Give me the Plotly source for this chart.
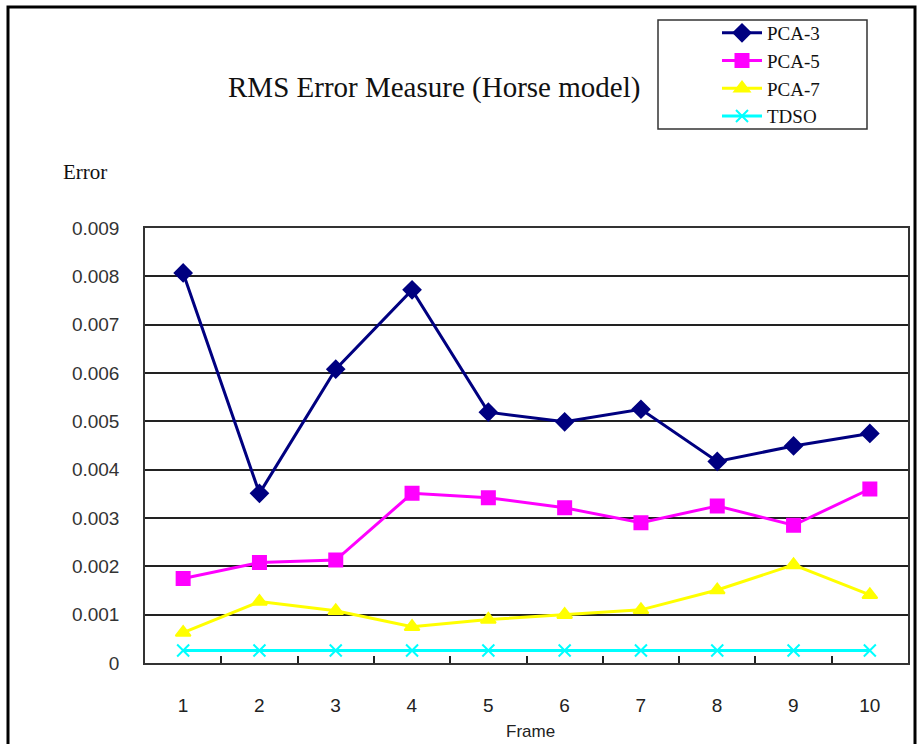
import plotly.graph_objects as go

# Frame numbers and RMS error per method
frames = [1, 2, 3, 4, 5, 6, 7, 8, 9, 10]
frame_labels = ["1", "2", "3", "4", "5", "6", "7", "8", "9", "10"]
pca3 = [0.00807, 0.00351, 0.00608, 0.00772, 0.00519, 0.00499, 0.00525, 0.00417, 0.00449, 0.00475]
pca5 = [0.00175, 0.00208, 0.00213, 0.00351, 0.00342, 0.00321, 0.00290, 0.00325, 0.00285, 0.00360]
pca7 = [0.00063, 0.00127, 0.00108, 0.00075, 0.00090, 0.00100, 0.00110, 0.00151, 0.00203, 0.00141]
tdso = [0.00026, 0.00026, 0.00026, 0.00026, 0.00026, 0.00026, 0.00026, 0.00026, 0.00026, 0.00026]

y_ticks = [0, 0.001, 0.002, 0.003, 0.004, 0.005, 0.006, 0.007, 0.008, 0.009]
y_tick_text = ["0", "0.001", "0.002", "0.003", "0.004", "0.005", "0.006", "0.007", "0.008", "0.009"]

series = [
    ("PCA-3", pca3, "#000080", "diamond", 13),
    ("PCA-5", pca5, "#FF00FF", "square", 13),
    ("PCA-7", pca7, "#FFFF00", "triangle-up", 13),
    ("TDSO", tdso, "#00FFFF", "x-thin-open", 12),
]

# each frame occupies one slot; ticks mark the slot boundaries
slot_left = [f - 0.5 for f in frames]
x_range = [frames[0] - 0.5, frames[-1] + 0.5]

W, H = 922, 744
L, R, T, B = 145, 14, 228, 81
pw, ph = W - L - R, H - T - B
slot_px = pw / len(frames)


def px(x):
    return (x - L) / pw


def py(y):
    return (H - B - y) / ph


fig = go.Figure()
for name, vals, color, sym, size in series:
    fig.add_trace(go.Scatter(
        x=frames, y=vals, name=name, mode="lines+markers",
        line=dict(color=color, width=3),
        marker=dict(symbol=sym, size=size, color=color,
                    line=dict(color=color, width=2)),
    ))

fig.update_layout(
    width=W, height=H,
    margin=dict(l=L, r=R, t=T, b=B),
    paper_bgcolor="white", plot_bgcolor="white",
    showlegend=True,
    legend=dict(
        x=px(717), y=py(14), xanchor="left", yanchor="top",
        bgcolor="rgba(0,0,0,0)", borderwidth=0,
        font=dict(family="Liberation Serif", size=19, color="#111"),
        itemwidth=40,
    ),
    # ticks on slot boundaries, labels shifted to the slot centres and
    # dropped one line below the axis
    xaxis=dict(
        range=x_range,
        tickvals=slot_left, ticktext=["<br>" + s for s in frame_labels],
        ticklabelshift=int(round(slot_px / 2)),
        ticks="inside", ticklen=7, tickwidth=1.5, tickcolor="#222",
        showgrid=False,
        showline=True, linecolor="#333", linewidth=1.5, mirror=True,
        tickfont=dict(family="Liberation Sans", size=19, color="#222"),
        zeroline=False,
    ),
    yaxis=dict(
        range=[0, 0.009], tickvals=y_ticks, ticktext=y_tick_text,
        showgrid=True, gridcolor="#222", gridwidth=1.5,
        showline=True, linecolor="#333", linewidth=1.5, mirror=True,
        ticks="", tickfont=dict(family="Liberation Sans", size=19, color="#333"),
        ticklabelstandoff=20,
        zeroline=False,
    ),
    shapes=[
        # outer frame of the whole chart
        dict(type="rect", xref="paper", yref="paper",
             x0=px(8), x1=px(915), y0=py(760), y1=py(7),
             line=dict(color="black", width=3)),
        # legend box
        dict(type="rect", xref="paper", yref="paper",
             x0=px(658), x1=px(867), y0=py(129), y1=py(20),
             line=dict(color="#333", width=1.5)),
    ],
    annotations=[
        dict(text="RMS Error Measure (Horse model)", xref="paper", yref="paper",
             x=px(434), y=py(88), xanchor="center", yanchor="middle", showarrow=False,
             font=dict(family="Liberation Serif", size=29, color="#111")),
        dict(text="Error", xref="paper", yref="paper",
             x=px(61), y=py(172), xanchor="left", yanchor="middle", showarrow=False,
             font=dict(family="Liberation Serif", size=21, color="#111")),
        dict(text="Frame", xref="paper", yref="paper",
             x=px(530), y=py(731), xanchor="center", yanchor="middle", showarrow=False,
             font=dict(family="Liberation Sans", size=17, color="#222")),
    ],
)

fig.write_html("out.html")
